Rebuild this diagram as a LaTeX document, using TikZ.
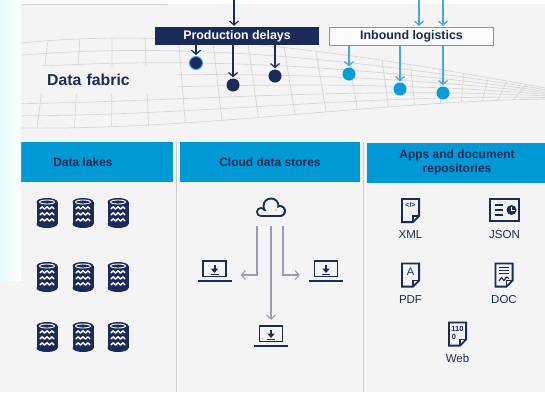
\documentclass[tikz,border=0pt]{standalone}
\usepackage{fontspec}
\setmainfont{Liberation Sans}
\usetikzlibrary{arrows.meta, positioning, calc}

\definecolor{navy}{HTML}{1B2A56}
\definecolor{lakeblue}{HTML}{0099D5}
\definecolor{skyline}{HTML}{45A8E1}
\definecolor{dotblue}{HTML}{0A9BDA}
\definecolor{paper}{HTML}{F4F4F4}
\definecolor{meshgray}{HTML}{D6D6D6}
\definecolor{rulegray}{HTML}{D0D0D0}
\definecolor{flowgray}{HTML}{9C9CB8}
\definecolor{edgecyan}{HTML}{E6FBFD}

\tikzset{
  header/.style={fill=lakeblue, text=navy, font=\bfseries\fontsize{12}{14.5}\selectfont,
    align=center, minimum width=180pt, minimum height=40pt, inner sep=0pt},
  prodbox/.style={fill=navy, text=white, font=\bfseries\fontsize{12.4}{14}\selectfont,
    minimum width=164pt, minimum height=18pt, inner sep=0pt},
  inbox/.style={draw=skyline, line width=1.1pt, fill=white!60!paper, text=navy,
    font=\bfseries\fontsize{12.4}{14}\selectfont, minimum width=164pt, minimum height=18pt, inner sep=0pt},
  fabriclabel/.style={fill=paper, text=navy, font=\bfseries\fontsize{15.8}{17}\selectfont,
    inner xsep=26pt, text width=104pt, minimum height=28pt, align=left},
  navydot/.style={circle, fill=navy, minimum size=13pt, inner sep=0pt},
  bluedot/.style={circle, fill=dotblue, minimum size=13pt, inner sep=0pt},
  barbtip/.style={-{Straight Barb[length=4pt,width=9pt]}, shorten >=1pt},
  navyarrow/.style={barbtip, navy, line width=1.2pt},
  bluearrow/.style={barbtip, skyline, line width=1.2pt},
  flowarrow/.style={barbtip, flowgray, line width=1.1pt, shorten <=8pt, shorten >=9pt},
  meshline/.style={meshgray, line width=0.7pt},
  doclabel/.style={text=navy, font=\fontsize{11.5}{13}\selectfont, inner sep=0pt},
  glyph/.style={text=navy, inner sep=0pt},
  iconbox/.style={inner sep=0pt, minimum width=34pt, minimum height=22pt},
  % database drum with waves
  lake/.pic={
    \fill[navy] (-10.5,-11) rectangle (10.5,11);
    \fill[navy] (0,-11) ellipse [x radius=10.5, y radius=4];
    \fill[navy] (0,11) ellipse [x radius=10.5, y radius=4];
    \draw[white, line width=0.9pt] (0,-11) ellipse [x radius=7.5, y radius=2];
    \foreach \y in {-4,2,8}
      \draw[white, line width=1.5pt, line join=round]
        (-7,\y) -- (-5,\y-2.2) -- (-2.5,\y) -- (0,\y-2.2) -- (2.5,\y) -- (5,\y-2.2) -- (7,\y);
  },
  % laptop with download mark
  laptop/.pic={
    \draw[navy, line width=1.8pt] (-11.5,-10) rectangle (11.5,5.5);
    \draw[navy, line width=2.6pt] (-17,10) -- (17,10);
    \fill[navy] (-1,-6.5) rectangle (1,-1.5);
    \fill[navy] (-3.8,-2.5) -- (3.8,-2.5) -- (0,2) -- cycle;
    \draw[navy, line width=1pt] (-4,3) -- (4,3);
    \node[iconbox] (-box) at (0,4) {};
  },
  % cloud outline from three lobes
  cloud/.pic={
    \fill[navy] (0,-2) circle (8.5);
    \fill[navy] (9,3) circle (6);
    \fill[navy] (-10,4) circle (5);
    \fill[navy] (-10,3) rectangle (9,9);
    \fill[paper] (0,-2) circle (6.5);
    \fill[paper] (9,3) circle (4);
    \fill[paper] (-10,4) circle (3);
    \fill[paper] (-10,3) rectangle (9,7);
    \node[inner sep=0pt, minimum width=30pt, minimum height=20pt] (-box) at (0,-0.5) {};
  },
  % sheet with a folded corner
  docsheet/.pic={
    \draw[navy, line width=1.8pt] (2.5,11.6) -- (-8.6,11.6) -- (-8.6,-11.6) -- (8.6,-11.6) -- (8.6,5.5) -- cycle;
    \draw[navy, line width=1.3pt] (8.6,5.5) -- (2.5,5.5) -- (2.5,11.6);
  }
}

\begin{document}
\begin{tikzpicture}[x=1pt, y=-1pt]
  \useasboundingbox (0,0) rectangle (545,392);
  \fill[white] (0,0) rectangle (545,392);
  \fill[paper] (21,4) rectangle (545,392);
  \fill[paper] (0,280) rectangle (21,392);
  \draw[rulegray, line width=0.8pt] (21,4.4) -- (167,4.4);

  % data fabric mesh
  \coordinate (t0) at (21,43);  \coordinate (t1) at (170,28);
  \coordinate (t2) at (330,48); \coordinate (t3) at (545,88);
  \coordinate (b0) at (21,128); \coordinate (b1) at (200,130);
  \coordinate (b2) at (370,102); \coordinate (b3) at (545,99);
  \foreach \s in {0,0.143,0.286,0.429,0.571,0.714,0.857,1}
    \draw[meshline] ($(t0)!\s!(b0)$) .. controls ($(t1)!\s!(b1)$) and ($(t2)!\s!(b2)$) .. ($(t3)!\s!(b3)$);
  \foreach \t in {0.06,0.13,0.2,0.27,0.34,0.41,0.48,0.55,0.61,0.67,0.73,0.78,0.83,0.87,0.91,0.94,0.97}{
    \pgfmathsetmacro\u{\t-0.03}
    \path (t0) .. controls (t1) and (t2) .. (t3) coordinate[pos=\t] (mt);
    \path (b0) .. controls (b1) and (b2) .. (b3) coordinate[pos=\u] (mb);
    \draw[meshline] (mt) -- (mb);
  }
  \node[fabriclabel, anchor=west] (fabric) at (21,80) {Data fabric};

  % events landing on the fabric
  \node[prodbox] (prod) at (237,36) {Production delays};
  \node[inbox] (inb) at (411.5,36.5) {Inbound logistics};
  \coordinate (prodin) at (234,0);
  \coordinate (inbinA) at (419,0);
  \coordinate (inbinB) at (443,0);
  \draw[navyarrow] (prodin) -- (prodin |- prod.north);
  \draw[bluearrow] (inbinA) -- (inbinA |- inb.north);
  \draw[bluearrow] (inbinB) -- (inbinB |- inb.north);

  \node[navydot, draw=skyline, line width=1pt] (pd1) at (196,63) {};
  \node[navydot] (pd2) at (233,85) {};
  \node[navydot] (pd3) at (275,76) {};
  \node[bluedot] (il1) at (349,74) {};
  \node[bluedot] (il2) at (400,89) {};
  \node[bluedot] (il3) at (443,93) {};
  \foreach \d in {pd1,pd2,pd3}
    \draw[navyarrow] (prod.south -| \d) -- (\d);
  \foreach \d in {il1,il2,il3}
    \draw[bluearrow] (inb.south -| \d) -- (\d);

  % source columns
  \node[header] (lakeshd) at (83,162) {Data lakes};
  \node[header] (cloudhd) at (270,162) {Cloud data stores};
  \node[header] (appshd) at (457,162.5) {Apps and document\\repositories};
  \draw[rulegray, line width=1.6pt] (176.5,142) -- (176.5,392);
  \draw[rulegray, line width=1.6pt] (363.5,142) -- (363.5,392);

  \shade[left color=edgecyan, right color=white] (0,0) rectangle (21,280);

  % data lakes
  \foreach \x in {47,83,118}
    \foreach \y in {213,277,337}
      \pic at (\x,\y) {lake};

  % cloud data stores
  \pic (cld) at (271,208) {cloud};
  \pic (lapL) at (214.5,271) {laptop};
  \pic (lapR) at (326,271) {laptop};
  \pic (lapB) at (271,336) {laptop};
  \draw[flowarrow] ([xshift=-14pt]cld-box.south) |- (lapL-box);
  \draw[flowarrow] ([xshift=12pt]cld-box.south) |- (lapR-box);
  \draw[flowarrow] (cld-box.south) -- (lapB-box);

  % apps and document repositories
  \begin{scope}[shift={(410.5,210.5)}]
    \pic {docsheet};
    \node[glyph, font=\bfseries\fontsize{7}{7}\selectfont] (xmltag) at (0,-5) {</>};
  \end{scope}
  \begin{scope}[shift={(504.5,210)}]
    \draw[navy, line width=2.2pt] (-14.5,-10.9) rectangle (14.5,10.9);
    \foreach \y in {-5,0,5}
      \draw[navy, line width=1.8pt] (-10,\y) -- (-1.5,\y);
    \fill[navy] (7,0) circle (5);
    \draw[white, line width=1pt] (7,-3.5) -- (7,0) -- (10.5,0);
  \end{scope}
  \begin{scope}[shift={(410.5,275)}]
    \pic {docsheet};
    \node[glyph, font=\fontsize{11}{11}\selectfont] (pdfmark) at (0,-3) {A};
  \end{scope}
  \begin{scope}[shift={(504,275)}]
    \pic {docsheet};
    \foreach \y in {-7.5,-4.5,-1.5}
      \draw[navy, line width=1.3pt] (-5,\y) -- (5,\y);
    \draw[navy, line width=1.2pt, line join=round] (-5,6) -- (-2.5,2.5) -- (0,5.5) -- (2.5,2) -- (5,3.5);
  \end{scope}
  \begin{scope}[shift={(457.5,334)}]
    \pic {docsheet};
    \node[glyph, font=\bfseries\fontsize{7.5}{8}\selectfont] (webbits) at (0,-5.5) {110};
    \node[glyph, font=\bfseries\fontsize{7.5}{8}\selectfont] (webzero) at (-3.5,2.5) {0};
  \end{scope}
  \node[doclabel] (xmllbl) at (410.5,235) {XML};
  \node[doclabel] (jsonlbl) at (504.5,235) {JSON};
  \node[doclabel] (pdflbl) at (410.5,300) {PDF};
  \node[doclabel] (doclbl) at (504,300) {DOC};
  \node[doclabel] (weblbl) at (457.5,358) {Web};
\end{tikzpicture}
\end{document}
